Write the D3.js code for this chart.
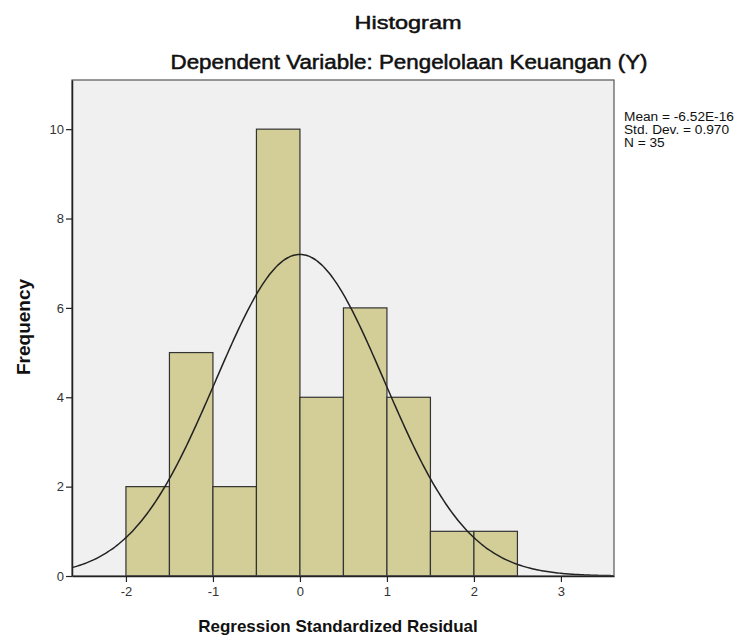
<!DOCTYPE html>
<html>
<head>
<meta charset="utf-8">
<script src="https://cdn.jsdelivr.net/npm/d3@7"></script>
<style>
  body { margin: 0; background: #fff; }
  text { font-family: "Liberation Sans", Arial, sans-serif; }
</style>
</head>
<body>
<div id="wrapper"></div>
<script>
// bins of width 0.5, lower edges
const binStarts = [-2, -1.5, -1, -0.5, 0, 0.5, 1, 1.5, 2];
const binWidth = 0.5;
const counts = [2, 5, 2, 10, 4, 6, 4, 1, 1];
const xTicks = [-2, -1, 0, 1, 2, 3];
const yTicks = [0, 2, 4, 6, 8, 10];
const statsLines = ["Mean = -6.52E-16", "Std. Dev. = 0.970", "N = 35"];
const mean = -6.52e-16;
const sd = 0.970;
const n = 35;

const width = 736;
const height = 637;
const margin = { top: 80, right: 122, bottom: 61, left: 72 };
const boundedWidth = width - margin.left - margin.right;
const boundedHeight = height - margin.top - margin.bottom;

const svg = d3.select("#wrapper")
    .append("svg")
    .attr("width", width)
    .attr("height", height);

const bounds = svg.append("g")
    .attr("transform", `translate(${margin.left},${margin.top})`);

const xScale = d3.scaleLinear()
    .domain([-2.62, 3.61])
    .range([0, boundedWidth]);

const yScale = d3.scaleLinear()
    .domain([0, 11.1])
    .range([boundedHeight, 0]);

bounds.append("rect")
    .attr("width", boundedWidth)
    .attr("height", boundedHeight)
    .attr("fill", "#f0f0f0");

bounds.append("clipPath")
    .attr("id", "plotClip")
    .append("rect")
    .attr("width", boundedWidth)
    .attr("height", boundedHeight);

const bins = binStarts.map((x0, i) => ({ x0: x0, x1: x0 + binWidth, count: counts[i] }));

bounds.selectAll(".bar")
    .data(bins)
    .join("rect")
    .attr("class", "bar")
    .attr("x", d => xScale(d.x0))
    .attr("width", d => xScale(d.x1) - xScale(d.x0))
    .attr("y", d => yScale(d.count))
    .attr("height", d => yScale(0) - yScale(d.count))
    .attr("fill", "#d3ce97")
    .attr("stroke", "#333")
    .attr("stroke-width", 1.2);

// normal curve from the reported mean / sd / N
const curveXs = d3.range(-2.62, 3.62, 0.02);
const pdf = x => n * binWidth / (sd * Math.sqrt(2 * Math.PI)) * Math.exp(-0.5 * ((x - mean) / sd) ** 2);

const lineGenerator = d3.line()
    .x(d => xScale(d))
    .y(d => yScale(pdf(d)))
    .curve(d3.curveBasis);

bounds.append("path")
    .attr("d", lineGenerator(curveXs))
    .attr("clip-path", "url(#plotClip)")
    .attr("fill", "none")
    .attr("stroke", "#222")
    .attr("stroke-width", 1.5);

// frame
bounds.append("rect")
    .attr("width", boundedWidth)
    .attr("height", boundedHeight)
    .attr("fill", "none")
    .attr("stroke", "#555")
    .attr("stroke-width", 1.2);

const xAxis = bounds.append("g")
    .attr("transform", `translate(0,${boundedHeight})`)
    .call(d3.axisBottom(xScale).tickValues(xTicks).tickSizeInner(6).tickSizeOuter(0).tickPadding(5).tickFormat(d => String(d)));

const yAxis = bounds.append("g")
    .call(d3.axisLeft(yScale).tickValues(yTicks).tickSizeInner(6).tickSizeOuter(0).tickPadding(2).tickFormat(d => String(d)));

[xAxis, yAxis].forEach(axis => {
    axis.select(".domain").attr("stroke", "#222").attr("stroke-width", 1.5);
    axis.selectAll(".tick line").attr("stroke", "#222").attr("stroke-width", 1.2);
    axis.selectAll(".tick text")
        .attr("fill", "#333")
        .style("font-family", "'Liberation Sans', Arial, sans-serif")
        .style("font-size", "13px");
});

svg.append("text")
    .attr("x", 408)
    .attr("y", 29)
    .attr("text-anchor", "middle")
    .attr("textLength", 107)
    .attr("lengthAdjust", "spacingAndGlyphs")
    .style("font-size", "19px")
    .attr("fill", "#111")
    .attr("stroke", "#111")
    .attr("stroke-width", 0.5)
    .text("Histogram");

svg.append("text")
    .attr("x", 409)
    .attr("y", 69)
    .attr("text-anchor", "middle")
    .attr("textLength", 477)
    .attr("lengthAdjust", "spacingAndGlyphs")
    .style("font-size", "19.5px")
    .attr("fill", "#111")
    .attr("stroke", "#111")
    .attr("stroke-width", 0.5)
    .text("Dependent Variable: Pengelolaan Keuangan (Y)");

const statsText = svg.append("g")
    .selectAll("text")
    .data(statsLines)
    .join("text")
    .attr("x", 624)
    .attr("y", (d, i) => 121 + i * 13)
    .style("font-size", "12px")
    .attr("fill", "#111")
    .text(d => d);

// the reference's legend font is a bit wider than Liberation Sans
statsText.each(function () {
    const len = this.getComputedTextLength();
    d3.select(this)
        .attr("textLength", len * 1.14)
        .attr("lengthAdjust", "spacingAndGlyphs");
});

svg.append("text")
    .attr("transform", "translate(30,327) rotate(-90)")
    .attr("text-anchor", "middle")
    .style("font-size", "19px")
    .style("font-weight", "bold")
    .attr("fill", "#111")
    .text("Frequency");

svg.append("text")
    .attr("x", 338)
    .attr("y", 632)
    .attr("text-anchor", "middle")
    .style("font-size", "17px")
    .style("font-weight", "bold")
    .attr("fill", "#111")
    .text("Regression Standardized Residual");
</script>
</body>
</html>
